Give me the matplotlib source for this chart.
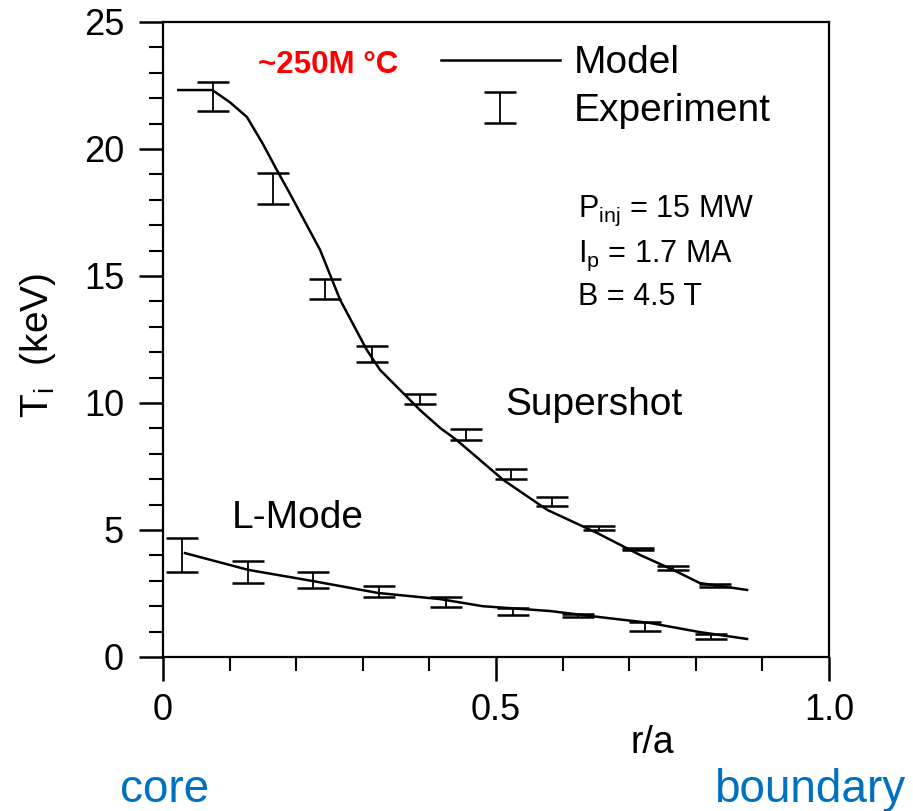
import numpy as np
import matplotlib
matplotlib.use("Agg")
import matplotlib.pyplot as plt
from matplotlib.lines import Line2D
from matplotlib.legend_handler import HandlerErrorbar
from matplotlib.ticker import FixedLocator, MultipleLocator, FixedFormatter

plt.rcParams['font.family'] = ['Liberation Sans', 'DejaVu Sans']
plt.rcParams['mathtext.fontset'] = 'custom'
plt.rcParams['mathtext.rm'] = 'Liberation Sans'
plt.rcParams['mathtext.it'] = 'Liberation Sans'

# model curves (r/a, Ti in keV)
ss_model_r = [0.023, 0.074, 0.10, 0.126, 0.15, 0.171, 0.19, 0.236, 0.266, 0.306, 0.326,
              0.356, 0.386, 0.416, 0.441, 0.511, 0.577, 0.652, 0.716, 0.766, 0.806, 0.877]
ss_model_t = [22.32, 22.32, 21.85, 21.26, 20.2, 19.17, 18.27, 16.02, 14.06, 12.09, 11.3,
              10.51, 9.72, 9.02, 8.54, 6.97, 5.79, 4.88, 4.02, 3.43, 2.91, 2.64]

lm_model_r = [0.033, 0.128, 0.225, 0.323, 0.416, 0.480, 0.581, 0.656, 0.731, 0.806, 0.877]
lm_model_t = [4.09, 3.43, 2.99, 2.52, 2.28, 2.0, 1.81, 1.57, 1.34, 0.98, 0.71]

# experiment
ss_exp_r = [0.075, 0.165, 0.243, 0.314, 0.386, 0.455, 0.523, 0.584, 0.655, 0.713, 0.766, 0.829]
ss_exp_t = [22.05, 18.45, 14.5, 11.93, 10.15, 8.76, 7.2, 6.12, 5.08, 4.25, 3.5, 2.83]
ss_exp_e = [0.57, 0.6, 0.4, 0.32, 0.2, 0.22, 0.2, 0.18, 0.08, 0.05, 0.08, 0.06]

lm_exp_r = [0.028, 0.128, 0.226, 0.324, 0.425, 0.525, 0.623, 0.723, 0.823]
lm_exp_t = [4.02, 3.35, 3.03, 2.58, 2.17, 1.79, 1.65, 1.2, 0.8]
lm_exp_e = [0.67, 0.43, 0.31, 0.22, 0.2, 0.14, 0.06, 0.18, 0.1]

fig = plt.figure(figsize=(9.13, 8.11), dpi=100)
ax = fig.add_axes([0.1785, 0.1899, 0.7295, 0.783])

ax.plot(ss_model_r, ss_model_t, color='black', lw=1.8)
ax.plot(lm_model_r, lm_model_t, color='black', lw=1.8)
eb = ax.errorbar(ss_exp_r, ss_exp_t, yerr=ss_exp_e, fmt='none', ecolor='black',
                 elinewidth=1.3, capsize=11.5, capthick=1.8)
ax.errorbar(lm_exp_r, lm_exp_t, yerr=lm_exp_e, fmt='none', ecolor='black',
            elinewidth=1.3, capsize=11.5, capthick=1.8)

ax.set_xlim(0, 1.0)
ax.set_ylim(0, 25)
ax.xaxis.set_major_locator(FixedLocator([0, 0.5, 1.0]))
ax.xaxis.set_major_formatter(FixedFormatter(['0', '0.5', '1.0']))
ax.xaxis.set_minor_locator(MultipleLocator(0.1))
ax.yaxis.set_major_locator(MultipleLocator(5))
ax.yaxis.set_minor_locator(MultipleLocator(1))
ax.tick_params(which='major', direction='out', length=17, width=1.8, labelsize=26)
ax.tick_params(which='minor', direction='out', length=10, width=1.5)
ax.tick_params(axis='x', which='major', pad=9)
ax.tick_params(axis='y', which='major', pad=11)
for s in ax.spines.values():
    s.set_linewidth(1.6)

ax.set_ylabel(r'T$_\mathrm{i}$  (keV)', fontsize=28)
ax.yaxis.set_label_coords(-0.157, 0.49)
ax.set_xlabel('r/a', fontsize=27)
ax.xaxis.set_label_coords(0.734, -0.107)

model_h = Line2D([], [], color='black', lw=1.8)
leg = ax.legend([model_h, eb], ['Model', 'Experiment'], loc='upper left',
                bbox_to_anchor=(0.417, 0.963), frameon=False, fontsize=28,
                handlelength=3.06, handletextpad=0.35, borderpad=0,
                borderaxespad=0, labelspacing=0.3,
                handler_map={type(eb): HandlerErrorbar(yerr_size=0.4)})

ax.text(0.248, 23.3, '~250M °C', color='#FF0000', fontsize=22.5, fontweight='bold',
        ha='center', va='center')
ax.text(0.623, 17.32, r'P$_\mathrm{inj}$ = 15 MW', fontsize=22, va='baseline')
ax.text(0.623, 15.55, r'I$_\mathrm{p}$ = 1.7 MA', fontsize=22, va='baseline')
ax.text(0.623, 13.86, 'B = 4.5 T', fontsize=22, va='baseline')
ax.text(0.514, 9.53, 'Supershot', fontsize=28, va='baseline')
ax.text(0.104, 5.08, 'L-Mode', fontsize=28, va='baseline')

fig.text(0.18, 0.011, 'core', color='#0070C0', fontsize=33, ha='center', va='baseline')
fig.text(0.887, 0.011, 'boundary', color='#0070C0', fontsize=33, ha='center', va='baseline')

fig.savefig('out.png', dpi=100)
